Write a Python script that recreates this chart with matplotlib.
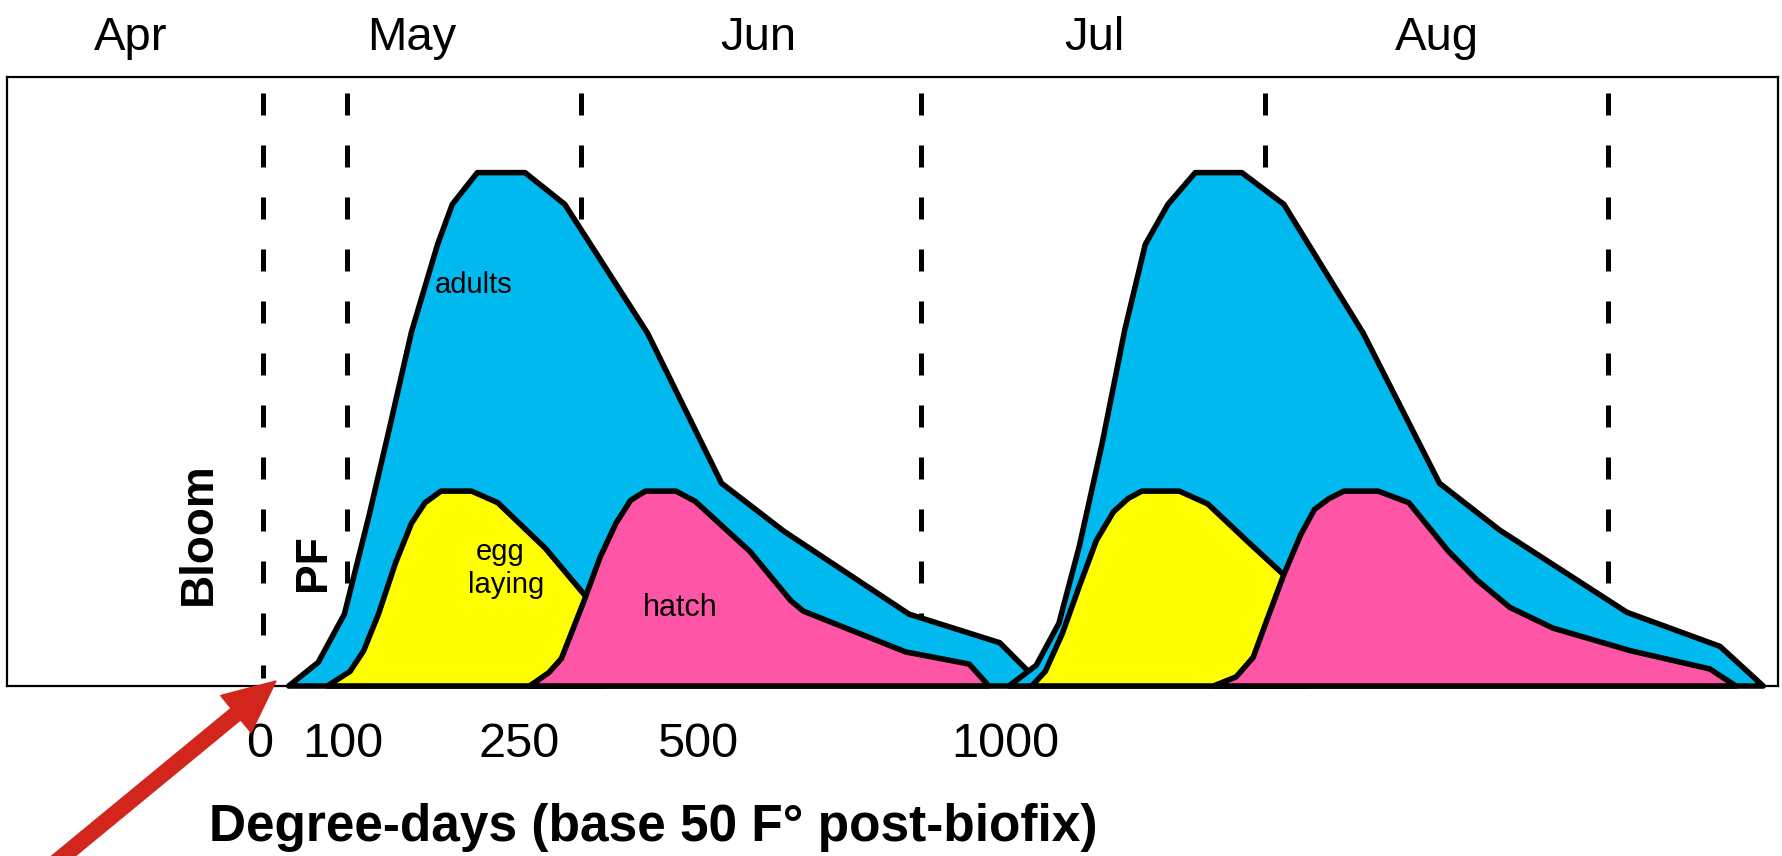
#importing packages
import numpy as np
import matplotlib
matplotlib.use("Agg")
import matplotlib.pyplot as plt
from matplotlib.patches import FancyArrow

plt.rcParams['font.family'] = 'Liberation Sans'

##data (x = days after 1 Apr, schematic; y = relative abundance 0-100)
adults1_x = [34.4, 37.0, 39.3, 41.5, 43.3, 45.2, 47.5, 48.8, 51.0, 55.2, 58.7, 66.0, 72.5, 78.0, 89.0, 97.0, 99.4, 99.6]
adults1_y = [0.0, 3.9, 11.8, 28.2, 42.6, 58.1, 72.5, 79.1, 84.3, 84.3, 79.1, 57.9, 33.3, 25.4, 11.8, 7.1, 2.6, 0.0]

eggs1_x = [37.8, 39.8, 41.0, 42.3, 43.8, 45.2, 46.4, 47.8, 50.5, 52.8, 57.0, 60.6, 62.0]
eggs1_y = [0.0, 2.4, 5.8, 11.8, 20.2, 26.7, 30.1, 32.0, 32.0, 30.1, 22.6, 14.6, 0.0]

hatch1_x = [55.6, 57.3, 58.4, 60.4, 61.8, 63.2, 64.5, 65.8, 68.5, 70.2, 75.0, 78.6, 79.7, 88.7, 94.3, 95.7, 96.0]
hatch1_y = [0.0, 2.2, 4.5, 14.0, 21.1, 26.7, 30.5, 32.0, 32.0, 30.3, 22.1, 14.0, 12.3, 5.6, 3.6, 0.7, 0.0]

adults2_x = [97.8, 100.2, 102.2, 104.0, 106.0, 108.0, 109.8, 111.8, 114.2, 118.3, 122.0, 129.0, 135.7, 141.0, 152.2, 160.4, 164.2]
adults2_y = [0.0, 3.4, 10.3, 23.0, 39.8, 58.5, 72.5, 79.1, 84.3, 84.3, 79.1, 57.9, 33.3, 25.6, 12.1, 6.5, 0.0]

eggs2_x = [99.8, 101.0, 102.5, 104.0, 105.5, 107.0, 108.3, 109.5, 112.8, 115.3, 119.0, 122.2, 124.0]
eggs2_y = [0.0, 2.4, 8.6, 16.4, 23.9, 28.6, 30.8, 32.0, 32.0, 29.9, 23.4, 17.9, 0.0]

hatch2_x = [115.8, 117.8, 119.3, 120.5, 122.0, 123.5, 124.7, 126.0, 127.3, 130.3, 133.0, 136.5, 139.0, 141.9, 145.7, 152.5, 159.5, 161.8]
hatch2_y = [0.0, 1.5, 4.7, 10.8, 18.3, 24.9, 29.0, 30.8, 32.0, 32.0, 30.1, 22.1, 17.4, 12.9, 9.5, 5.8, 2.8, 0.0]

months = ["Apr", "May", "Jun", "Jul", "Aug"]
month_x = [20.5, 45.2, 75.7, 105.3, 135.5]
month_bounds = [60.1, 90.1, 120.3, 150.5]

bloom_x = 32.1
pf_x = 39.5

dd_labels = ["0", "100", "250", "500", "1000"]
dd_x = [31.8, 39.2, 54.7, 70.4, 97.5]

blue = "#00B9EF"
yellow = "#FFFF00"
pink = "#FF55A6"

##figure
fig = plt.figure(figsize=(17.82, 8.56), dpi=100)
ax = fig.add_axes([7/1782, 170/856, 1771/1782, 609/856])
ax.set_xlim(9.6, 165.5)
ax.set_ylim(0, 100)

#dashed lines (bloom, petal fall, month boundaries)
for xv in [bloom_x, pf_x] + month_bounds:
    ax.plot([xv, xv], [97.4, 1.3], color="black", linewidth=3.6,
            linestyle=(0, (4.4, 6.0)), zorder=1)

#generations
for xs, ys, col in [(adults1_x, adults1_y, blue), (eggs1_x, eggs1_y, yellow),
                    (hatch1_x, hatch1_y, pink), (adults2_x, adults2_y, blue),
                    (eggs2_x, eggs2_y, yellow), (hatch2_x, hatch2_y, pink)]:
    ax.fill(xs, ys, facecolor=col, edgecolor="black", linewidth=4.0,
            joinstyle="round", clip_on=False, zorder=2)

#labels in the plot
ax.text(50.7, 64.5, "adults", fontsize=21, ha="center", va="baseline", zorder=3)
ax.text(53.0, 20.7, "egg", fontsize=21, ha="center", va="baseline", zorder=3)
ax.text(53.5, 15.3, "laying", fontsize=21, ha="center", va="baseline", zorder=3)
ax.text(68.9, 11.5, "hatch", fontsize=22, ha="center", va="baseline", zorder=3)
ax.text(26.5, 25.0, "Bloom", fontsize=33, fontweight="bold", rotation=90,
        ha="center", va="center")
ax.text(36.6, 20.2, "PF", fontsize=32, fontweight="bold", rotation=90,
        ha="center", va="center")

#months on top
for m, xm in zip(months, month_x):
    ax.text(xm, 1.044, m, fontsize=34, ha="center", va="baseline",
            transform=ax.get_xaxis_transform())

#degree-day ticks
ax.set_xticks(dd_x, dd_labels)
ax.set_yticks([])
ax.tick_params(axis="x", length=0, labelsize=35, pad=26)
ax.set_xlabel("Degree-days (base 50 F° post-biofix)", fontsize=37,
              fontweight="bold", va="baseline")
ax.xaxis.set_label_coords(0.365, -0.2545)

for sp in ax.spines.values():
    sp.set_linewidth(1.6)

#red arrow pointing at bloom
fig.add_artist(FancyArrow(0.55, -0.07, 2.21, 1.82, width=0.15, head_width=0.48,
                          head_length=0.52, length_includes_head=True,
                          color="#D2261C", transform=fig.dpi_scale_trans))

plt.savefig("out.png", dpi=100)
